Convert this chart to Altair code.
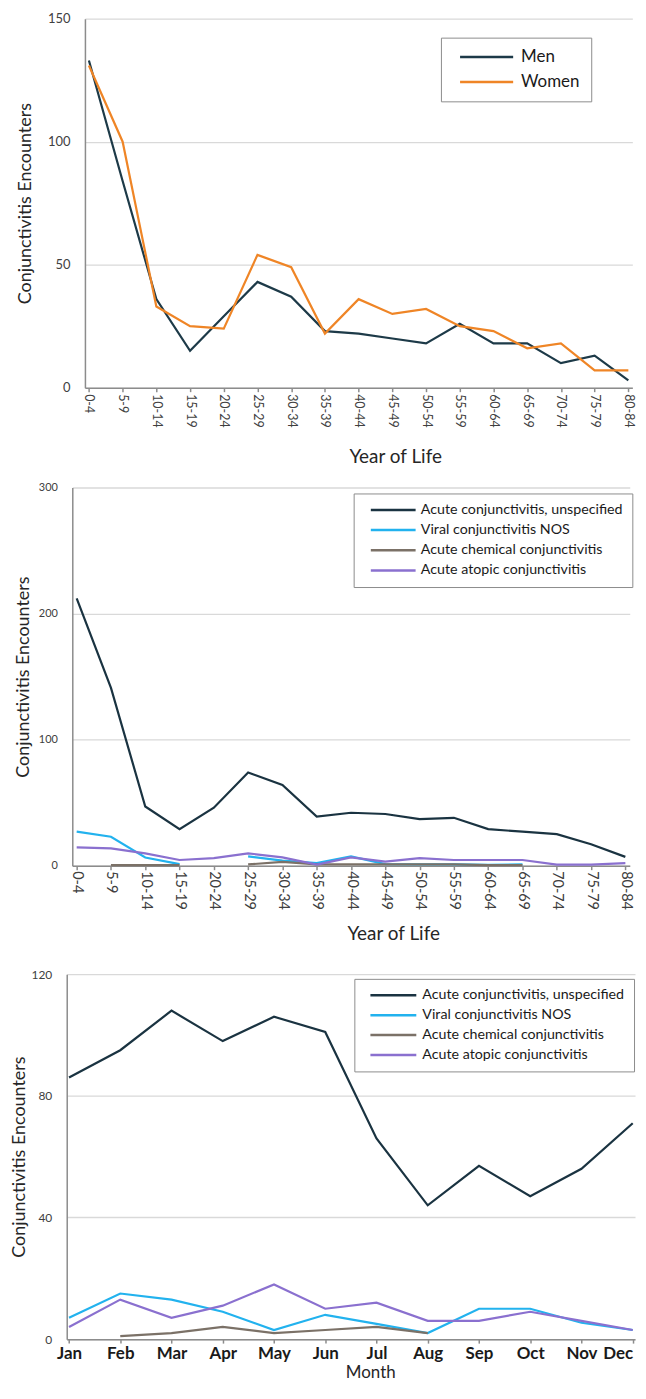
import altair as alt
import pandas as pd

# ---------------- data ----------------
age_groups = ["0-4", "5-9", "10-14", "15-19", "20-24", "25-29", "30-34", "35-39", "40-44",
              "45-49", "50-54", "55-59", "60-64", "65-69", "70-74", "75-79", "80-84"]
sexes = ["Men", "Women"]
men = [133, 84, 36, 15, 29, 43, 37, 23, 22, 20, 18, 26, 18, 18, 10, 13, 3]
women = [131, 100, 33, 25, 24, 54, 49, 22, 36, 30, 32, 25, 23, 16, 18, 7, 7]

diagnoses = ["Acute conjunctivitis, unspecified", "Viral conjunctivitis NOS",
             "Acute chemical conjunctivitis", "Acute atopic conjunctivitis"]
age_unspecified = [212, 141, 47, 29, 46, 74, 64, 39, 42, 41, 37, 38, 29, 27, 25, 17, 7]
age_viral = [27, 23, 6.5, 1.3, None, 7.4, 4, 2, 7.4, 1.3, 1, 1, 0.7, 1, None, None, None]
age_chemical = [None, 0.5, 0.5, 0.5, None, 1, 3, 1, 1, 1, 1, 1, 0.5, 0.5, None, None, None]
age_atopic = [14.5, 13.7, 9.8, 4.5, 6, 9.8, 6.6, 0.8, 6.6, 3.2, 6, 4.5, 4.5, 4.5, 0.8, 0.8, 2]

months = ["Jan", "Feb", "Mar", "Apr", "May", "Jun", "Jul", "Aug", "Sep", "Oct", "Nov", "Dec"]
mon_unspecified = [86, 95, 108, 98, 106, 101, 66, 44, 57, 47, 56, 71]
mon_viral = [7, 15, 13, 9, 3, 8, 5, 2, 10, 10, 5.4, 3]
mon_chemical = [None, 1, 2, 4, 2, 3, 4, 2, None, None, None, None]
mon_atopic = [4, 13, 7, 11, 18, 10, 12, 6, 6, 9, 6, 3]

sex_colors = ["#1d3a48", "#ef8526"]
dx_colors = ["#1a3341", "#22b2ee", "#7b7167", "#8a70cf"]


def long_df(cats, names, series):
    rows = []
    for name, vals in zip(names, series):
        for c, v in zip(cats, vals):
            rows.append({"cat": c, "series": name, "value": v})
    return pd.DataFrame(rows)


df1 = long_df(age_groups, sexes, [men, women])
df2 = long_df(age_groups, diagnoses, [age_unspecified, age_viral, age_chemical, age_atopic])
df3 = long_df(months, diagnoses, [mon_unspecified, mon_viral, mon_chemical, mon_atopic])

FONT = "Lato"
AXIS_GRAY = "#8c8c8c"
GRID = "#d9d9d9"
LABEL = "#404040"
TITLE = "#262626"
W = 571


def y_axis(values, offset, extent, tpad, lsize):
    return alt.Axis(values=values, title="Conjunctivitis Encounters", offset=offset,
                    ticks=False, tickSize=0, labelPadding=15,
                    minExtent=extent, maxExtent=extent, titlePadding=tpad,
                    grid=True, gridColor=GRID, gridWidth=1.3,
                    domainColor=AXIS_GRAY, domainWidth=1.5,
                    labelFont=FONT, labelFontSize=lsize, labelColor=LABEL,
                    titleFont=FONT, titleFontSize=18, titleFontWeight="normal",
                    titleColor=TITLE)


def legend(x, y, pad, row_pad, fsize, path, ssize, loff):
    return alt.Legend(title=None, orient="none", legendX=x, legendY=y,
                      symbolType=path, symbolSize=ssize, symbolStrokeWidth=2.5,
                      labelFont=FONT, labelFontSize=fsize, labelColor="#1a1a1a",
                      labelOffset=loff, labelLimit=400, padding=pad, rowPadding=row_pad,
                      strokeColor="#8c8c8c", fillColor="white")


# ---------------- panel 1 ----------------
p1 = alt.Chart(df1).mark_line(strokeWidth=2.2, invalid="break-paths-show-domains").encode(
    x=alt.X("cat:N", sort=age_groups,
            scale=alt.Scale(type="point", domain=age_groups, range=[18.3, 568.3], padding=0.118),
            axis=alt.Axis(title="Year of Life", labelAngle=90, ticks=True, tickSize=4,
                          tickColor=AXIS_GRAY, tickWidth=1.5, labelPadding=2,
                          domainColor=AXIS_GRAY, domainWidth=1.5, grid=False,
                          labelFont=FONT, labelFontSize=12.5, labelColor=LABEL,
                          titleFont=FONT, titleFontSize=19, titleFontWeight="normal",
                          titleColor=TITLE, titleX=330, titleY=75,
                          titleBaseline="alphabetic")),
    y=alt.Y("value:Q", scale=alt.Scale(domain=[0, 150], nice=False),
            axis=y_axis([0, 50, 100, 150], -18.3, 36, 15, 13)),
    color=alt.Color("series:N", scale=alt.Scale(domain=sexes, range=sex_colors),
                    legend=legend(376, 19, 11, 7, 17, "M-0.04,0H7.58", 196, 52.5)),
).properties(width=W, height=370.7)

# ---------------- panel 2 ----------------
p2 = alt.Chart(df2).mark_line(strokeWidth=2.2, invalid="break-paths-show-domains").encode(
    x=alt.X("cat:N", sort=age_groups,
            scale=alt.Scale(type="point", domain=age_groups, range=[5.6, 565.7], padding=0.1277),
            axis=alt.Axis(title="Year of Life", labelAngle=90, ticks=True, tickSize=4,
                          tickColor=AXIS_GRAY, tickWidth=1.5, labelPadding=1,
                          domainColor=AXIS_GRAY, domainWidth=1.5, grid=False,
                          labelFont=FONT, labelFontSize=14.5, labelColor=LABEL,
                          titleFont=FONT, titleFontSize=19, titleFontWeight="normal",
                          titleColor=TITLE, titleX=328, titleY=74,
                          titleBaseline="alphabetic")),
    y=alt.Y("value:Q", scale=alt.Scale(domain=[0, 300], nice=False),
            axis=y_axis([0, 100, 200, 300], -5.6, 30, 10, 11)),
    color=alt.Color("series:N", scale=alt.Scale(domain=diagnoses, range=dx_colors),
                    legend=legend(288.3, 6, 9, 5.3, 14.3, "M0.125,0H7.625", 144, 43.5)),
).properties(width=W, height=380)

# ---------------- panel 3 ----------------
p3 = alt.Chart(df3).mark_line(strokeWidth=2.2, invalid="break-paths-show-domains").encode(
    x=alt.X("cat:N", sort=months,
            scale=alt.Scale(type="point", domain=months, range=[0, 571], padding=0.0448),
            axis=alt.Axis(title="Month", labelAngle=0, ticks=True, tickSize=4,
                          tickColor=AXIS_GRAY, tickWidth=1.5, labelPadding=2,
                          labelAlign={"condition": {"test": "datum.value == 'Dec'", "value": "right"},
                                      "value": "center"},
                          domainColor=AXIS_GRAY, domainWidth=1.5, grid=False,
                          labelFont=FONT, labelFontSize=17, labelFontWeight="bold",
                          labelColor="#1a1a1a",
                          titleFont=FONT, titleFontSize=17, titleFontWeight="normal",
                          titleColor=TITLE, titleX=305, titleY=38.5,
                          titleBaseline="alphabetic")),
    y=alt.Y("value:Q", scale=alt.Scale(domain=[0, 120], nice=False),
            axis=y_axis([0, 40, 80, 120], 0, 30, 8.7, 12)),
    color=alt.Color("series:N", scale=alt.Scale(domain=diagnoses, range=dx_colors),
                    legend=legend(289, 4.7, 9, 5, 14.3, "M-0.06,0H7.625", 144, 44.3)),
).properties(width=W, height=366.7)

inner = alt.vconcat(p1, p2, spacing=15).resolve_scale(color="independent")
chart = alt.vconcat(inner, p3, spacing=25).properties(
    padding={"left": 2, "top": 1.5, "right": 0, "bottom": 0},
    background="white",
).resolve_scale(color="independent").configure_view(stroke=None)

chart.save("out.html", embed_options={"renderer": "svg", "actions": False})
